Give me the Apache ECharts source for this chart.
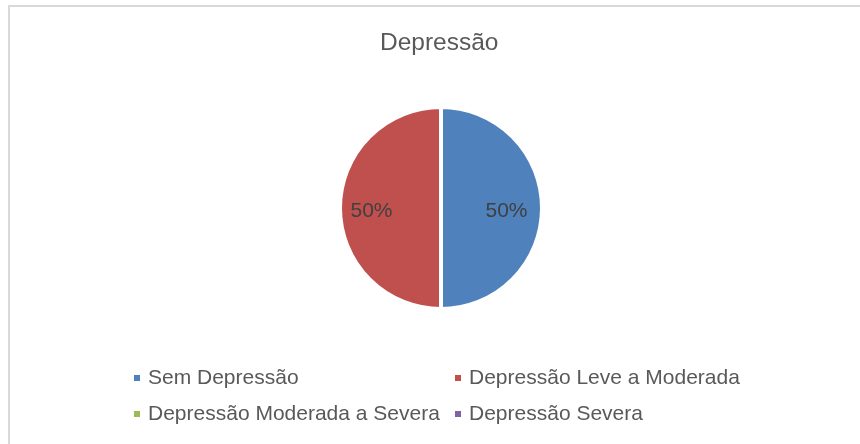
<!DOCTYPE html>
<html>
<head>
<meta charset="utf-8">
<script src="https://cdn.jsdelivr.net/npm/echarts@6/dist/echarts.min.js"></script>
<style>
    html, body { margin: 0; padding: 0; background: #fff; }
    #main { width: 860px; height: 444px; }
</style>
</head>
<body>
<div id="main"></div>
<script>
    // categorias e valores (percentuais)
    var categories = ['Sem Depressão', 'Depressão Leve a Moderada', 'Depressão Moderada a Severa', 'Depressão Severa'];
    var values = [50, 50, 0, 0];
    var colors = ['#4F81BD', '#C0504D', '#9BBB59', '#8064A2'];

    var chart = echarts.init(document.getElementById('main'));

    var pieData = [];
    for (var i = 0; i < categories.length; i++) {
        pieData.push({
            name: categories[i],
            value: values[i],
            label: { show: values[i] > 0 }
        });
    }

    var legendText = {
        color: '#595959',
        fontFamily: 'Liberation Sans, Arial, sans-serif',
        fontSize: 21,
        lineHeight: 24,
        padding: [0, 0, 0, 2]
    };

    var option = {
        animation: false,
        color: colors,
        title: {
            text: 'Depressão',
            left: 380,
            top: 31,
            padding: 0,
            textStyle: {
                color: '#595959',
                fontFamily: 'Liberation Sans, Arial, sans-serif',
                fontSize: 24.5,
                fontWeight: 'normal'
            }
        },
        graphic: [{
            type: 'rect',
            silent: true,
            shape: { x: 9, y: 6, width: 900, height: 500 },
            style: { fill: 'none', stroke: '#D9D9D9', lineWidth: 2 }
        }],
        legend: [{
            orient: 'vertical',
            left: 132,
            top: 366,
            itemWidth: 8,
            itemHeight: 8,
            itemGap: 12,
            icon: 'rect',
            padding: 0,
            selectedMode: false,
            data: [categories[0], categories[2]],
            textStyle: legendText
        }, {
            orient: 'vertical',
            left: 453,
            top: 366,
            itemWidth: 8,
            itemHeight: 8,
            itemGap: 12,
            icon: 'rect',
            padding: 0,
            selectedMode: false,
            data: [categories[1], categories[3]],
            textStyle: legendText
        }],
        series: [{
            type: 'pie',
            center: [441, 208],
            radius: [0, 101],
            startAngle: 90,
            clockwise: true,
            percentPrecision: 0,
            itemStyle: { borderColor: '#fff', borderWidth: 4 },
            label: {
                position: 'inside',
                formatter: '{d}%',
                color: '#404040',
                fontFamily: 'Liberation Sans, Arial, sans-serif',
                fontSize: 21
            },
            labelLayout: function (p) {
                return { dx: p.dataIndex === 0 ? 12 : -16, dy: 3 };
            },
            labelLine: { show: false },
            emphasis: { disabled: true },
            data: pieData
        }]
    };

    chart.setOption(option);
</script>
</body>
</html>
